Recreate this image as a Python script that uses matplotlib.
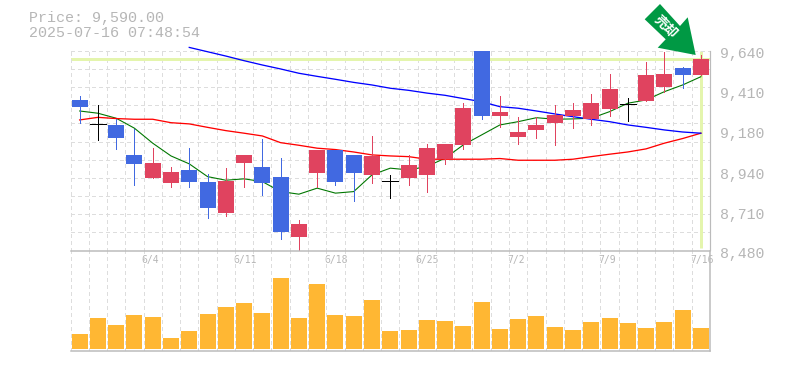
"""
plot.py

Candlestick chart with moving averages and a volume panel. Saves out.png.
"""

import matplotlib
matplotlib.use("Agg")

import matplotlib.pyplot as plt
import matplotlib.patches as mpatches
import matplotlib.transforms as mtransforms
import numpy as np

W, H = 785, 370

BLUE   = "#4169E1"
RED    = "#E0435F"
ORANGE = "#FFB733"
GRID   = "#DDDDDD"
FRAME  = "#BBBBBB"
TEXT   = "#B6B6B6"
MARK   = "#E4F5AD"
ARROW  = "#009944"

highs = [9377, 9325, 9244, 9186, 9075, 8965, 9075, 8925, 8959, 9035, 9128, 9017,
         8658, 9064, 9064, 9035, 9145, 8919, 9035, 9097, 9099, 9336, 9640, 9377,
         9255, 9255, 9325, 9336, 9389, 9505, 9365, 9574, 9630, 9545, 9615]
lows = [9222, 9124, 9072, 8863, 8903, 8851, 8851, 8671, 8683, 8851, 8805, 8544,
        8482, 8851, 8863, 8770, 8874, 8782, 8863, 8822, 8985, 9070, 9246, 9195,
        9101, 9135, 9095, 9193, 9211, 9263, 9234, 9350, 9402, 9425, 9501]
body_tops = [9354, 9213, 9209, 9035, 8988, 8936, 8948, 8878, 8884, 9035, 8965, 8907,
             8635, 9064, 9064, 9035, 9029, 8882, 8977, 9075, 9099, 9307, 9640, 9284,
             9168, 9209, 9267, 9296, 9336, 9418, 9333, 9499, 9505, 9539, 9590]
body_bottoms = [9315, 9213, 9135, 8985, 8903, 8874, 8880, 8724, 8700, 8990, 8874, 8590,
                8561, 8932, 8880, 8932, 8921, 8882, 8903, 8921, 9012, 9093, 9263, 9261,
                9139, 9180, 9220, 9261, 9244, 9304, 9333, 9350, 9431, 9501, 9501]
# b = blue, r = red, k = no body
candle_kinds = "bkbbrrbbrrbbrrbbrkrrrrbrrrrrrrkrrbr"

ma_short = [9290, 9277, 9248, 9190, 9103, 9029, 8983, 8909, 8888, 8896, 8880, 8822,
            8807, 8842, 8813, 8822, 8919, 8958, 8948, 8967, 9016, 9093, 9151, 9209,
            9228, 9251, 9242, 9244, 9248, 9286, 9335, 9354, 9402, 9441, 9489]
ma_mid = [9238, 9253, 9246, 9242, 9242, 9222, 9215, 9195, 9176, 9161, 9145, 9106,
          9091, 9074, 9066, 9052, 9035, 9029, 9025, 9010, 9010, 9010, 9010, 9014,
          9004, 9004, 9004, 9010, 9025, 9039, 9052, 9070, 9103, 9130, 9161]
# long average only starts at the 7th session
ma_long_start = 6
ma_long = [9659, 9634, 9609, 9582, 9557, 9534, 9509, 9491, 9474, 9456, 9441, 9422,
           9410, 9394, 9381, 9362, 9344, 9315, 9306, 9290, 9273, 9257, 9242, 9228,
           9209, 9195, 9180, 9168, 9161]

volumes = [15, 31, 24, 34, 32, 11, 18, 35, 42, 46, 36, 71, 31, 65, 34, 33, 49, 18,
           19, 29, 28, 23, 47, 20, 30, 33, 22, 19, 27, 31, 26, 21, 27, 39, 21]

date_positions = [4, 9, 14, 19, 24, 29, 34]
date_labels = ["6/4", "6/11", "6/18", "6/25", "7/2", "7/9", "7/16"]
price_ticks = [9640, 9410, 9180, 8940, 8710, 8480]
last_price = 9590
last_index = 34

PX = 72 / 100  # one pixel in points at dpi 100
DASH = (0, (3, 3))

fig = plt.figure(figsize=(W / 100, H / 100), dpi=100, facecolor="white")


def axes_from_pixels(left, top, right, bottom):
    return fig.add_axes([left / W, 1 - bottom / H, (right - left) / W, (bottom - top) / H])


ax = axes_from_pixels(70.5, 50.7, 710, 250.5)
ax_vol = axes_from_pixels(70.5, 250.5, 710, 350.5)

x = np.arange(len(highs))

# ── Price panel ───────────────────────────────────────────────────────────────

ax.set_xlim(-0.5, 34.5)
ax.set_ylim(8480, 9640)
ax.set_axisbelow(True)

ax.set_xticks(x[:-1] + 0.5, minor=True)
ax.set_yticks(np.linspace(8480, 9640, 12), minor=True)
ax.set_xticks([])
ax.grid(True, which="minor", color=GRID, linewidth=PX, linestyle=DASH, antialiased=False)
ax.tick_params(which="minor", length=0)
ax.axvline(-0.5, color=GRID, linewidth=PX, linestyle=DASH, antialiased=False)
ax.axhline(9640, color=GRID, linewidth=PX, linestyle=DASH, antialiased=False)

ax.axhline(last_price, color=MARK, linewidth=3 * PX, zorder=1.5)
ax.plot([last_index, last_index], [8492, 9640], color=MARK, linewidth=3 * PX,
        solid_capstyle="butt", zorder=1.5)

ax.plot(x, ma_short, color="#007700", linewidth=1.1 * PX, zorder=2)
ax.plot(x, ma_mid, color="#FF0000", linewidth=1.3 * PX, zorder=2)
ax.plot(x[ma_long_start:], ma_long, color="#0000FF", linewidth=1.3 * PX, zorder=2, clip_on=False)

for i, kind in enumerate(candle_kinds):
    if kind == "k":
        ax.vlines(i, lows[i], highs[i], color="black", linewidth=PX, zorder=3, antialiased=False)
        ax.hlines(body_tops[i], i - 0.44, i + 0.44, color="black", linewidth=PX, zorder=3,
                  antialiased=False)
        continue
    color = BLUE if kind == "b" else RED
    ax.vlines(i, lows[i], highs[i], color=color, linewidth=PX, zorder=3, antialiased=False)
    ax.bar(i, body_tops[i] - body_bottoms[i], 0.875, bottom=body_bottoms[i], color=color,
           zorder=3, antialiased=False)

for side in ["top", "left", "bottom"]:
    ax.spines[side].set_visible(False)
ax.spines["right"].set_color(FRAME)
ax.spines["right"].set_linewidth(1.2 * PX)

ax.yaxis.tick_right()
ax.set_yticks(price_ticks)
ax.set_yticklabels([f"{p:,}" for p in price_ticks], family="Liberation Mono", fontsize=10.7,
                   color=TEXT)
ax.tick_params(axis="y", which="major", length=0, pad=7)
shift = mtransforms.ScaledTranslation(0, -2.3 / 100, fig.dpi_scale_trans)
for label in ax.get_yticklabels():
    label.set_transform(label.get_transform() + shift)

# ── Volume panel ──────────────────────────────────────────────────────────────

ax_vol.bar(x, volumes, 0.875, color=ORANGE, zorder=3, antialiased=False)
ax_vol.set_xlim(-0.5, 34.5)
ax_vol.set_ylim(-2, 98)
ax_vol.set_yticks([])
ax_vol.set_xticks(x[:-1] + 0.5, minor=True)
ax_vol.grid(True, which="minor", axis="x", color=GRID, linewidth=PX, linestyle=DASH,
            antialiased=False)
ax_vol.tick_params(which="minor", length=0)
ax_vol.axvline(-0.5, color=GRID, linewidth=PX, linestyle=DASH, antialiased=False)
ax_vol.set_axisbelow(True)

ax_vol.xaxis.tick_top()
ax_vol.set_xticks(date_positions)
ax_vol.set_xticklabels(date_labels, family="DejaVu Sans Mono", fontsize=7, color=TEXT, ha="left")
ax_vol.tick_params(axis="x", which="major", length=0, pad=-10.5)
date_shift = mtransforms.ScaledTranslation(-11 / 100, 0, fig.dpi_scale_trans)
for label in ax_vol.get_xticklabels():
    label.set_transform(label.get_transform() + date_shift)

ax_vol.spines["left"].set_visible(False)
for side in ["top", "bottom", "right"]:
    ax_vol.spines[side].set_color(FRAME)
    ax_vol.spines[side].set_linewidth(1.5 * PX)

# ── Header and arrow ──────────────────────────────────────────────────────────

fig.text(29 / W, 1 - 18 / H, f"Price: {last_price:,.2f}", family="Liberation Mono",
         fontsize=10.8, color=TEXT, va="center")
fig.text(29 / W, 1 - 33 / H, "2025-07-16 07:48:54", family="Liberation Mono",
         fontsize=10.8, color=TEXT, va="center")

arrow_px = [(660, 4), (644.7, 19.3), (665.7, 39.3), (657.7, 47.7),
            (695.7, 55), (687.7, 17.3), (680, 26)]
arrow_fig = [(px / W, 1 - py / H) for px, py in arrow_px]
fig.add_artist(mpatches.Polygon(arrow_fig, closed=True, facecolor=ARROW, edgecolor="none",
                                transform=fig.transFigure))
fig.text(666 / W, 1 - 27 / H, "売却", family=["Noto Sans CJK JP", "DejaVu Sans"],
         fontsize=9.5, fontweight="bold", color="white", rotation=-45,
         ha="center", va="center", rotation_mode="anchor")

plt.savefig("out.png", dpi=100)
plt.close()
